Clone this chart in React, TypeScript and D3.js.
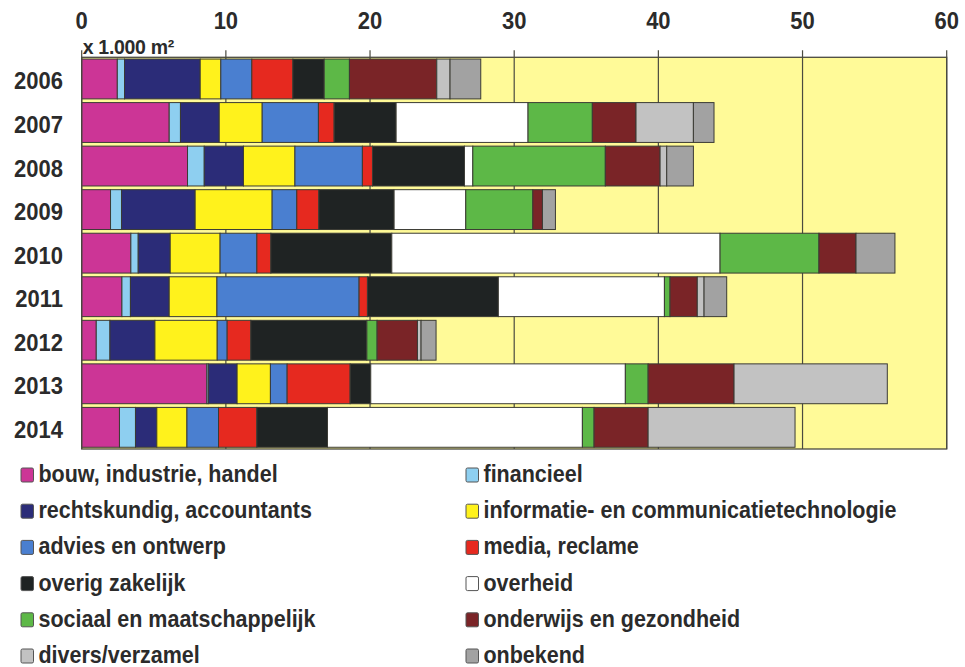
import * as d3 from 'd3';

// jaren (y-as)
const years = ['2006', '2007', '2008', '2009', '2010', '2011', '2012', '2013', '2014'];

// x-as ticks, in 1.000 m²
const xTicks = [0, 10, 20, 30, 40, 50, 60];

// sectoren, in stapelvolgorde
const sectors = [
  'bouw, industrie, handel',
  'financieel',
  'rechtskundig, accountants',
  'informatie- en communicatietechnologie',
  'advies en ontwerp',
  'media, reclame',
  'overig zakelijk',
  'overheid',
  'sociaal en maatschappelijk',
  'onderwijs en gezondheid',
  'divers/verzamel',
  'onbekend',
];

const sectorColors = [
  '#cc3596', '#8ecff0', '#2b2c78', '#fff21c', '#4a7fd0', '#e6291f',
  '#1f2323', '#ffffff', '#5db847', '#7a2427', '#c2c2c2', '#a2a2a2',
];

// waarden per sector, 2006..2014 (x 1.000 m²)
const bouw = [2.47, 6.07, 7.34, 2.0, 3.41, 2.79, 1.01, 8.68, 2.62];
const financieel = [0.5, 0.78, 1.16, 0.76, 0.51, 0.59, 0.95, 0.1, 1.11];
const rechtskundig = [5.25, 2.69, 2.72, 5.11, 2.22, 2.69, 3.12, 2.0, 1.48];
const informatie = [1.43, 2.98, 3.57, 5.34, 3.46, 3.31, 4.32, 2.31, 2.09];
const advies = [2.15, 3.9, 4.68, 1.71, 2.55, 9.86, 0.69, 1.16, 2.19];
const media = [2.85, 1.09, 0.7, 1.53, 0.97, 0.58, 1.64, 4.37, 2.66];
const overig = [2.17, 4.3, 6.38, 5.22, 8.39, 9.08, 8.05, 1.43, 4.9];
const overheid = [0, 9.15, 0.58, 4.97, 22.77, 11.52, 0, 17.66, 17.68];
const sociaal = [1.75, 4.46, 9.19, 4.65, 6.86, 0.39, 0.71, 1.58, 0.81];
const onderwijs = [6.06, 3.03, 3.8, 0.67, 2.57, 1.89, 2.8, 5.96, 3.75];
const divers = [0.92, 3.98, 0.46, 0, 0, 0.47, 0.25, 10.63, 10.19];
const onbekend = [2.13, 1.43, 1.85, 0.9, 2.7, 1.57, 1.04, 0, 0];

const series = [bouw, financieel, rechtskundig, informatie, advies, media,
  overig, overheid, sociaal, onderwijs, divers, onbekend];

const W = 965;
const H = 667;
const plot = { left: 81.7, right: 946.7, top: 57.3, bottom: 449 };
const FONT = '"Liberation Sans", Arial, sans-serif';
const TEXT = '#2b2b2b';

// tekst iets hoger getrokken, zoals in het origineel
function Label({ x, y, size, anchor = 'start', children, spacing = 0 }: {
  x: number; y: number; size: number; anchor?: string; children: any; spacing?: number;
}) {
  return (
    <g transform={`translate(${x},${y}) scale(1,1.08)`}>
      <text x={0} y={0} textAnchor={anchor} fontSize={size} fill={TEXT} letterSpacing={spacing}>{children}</text>
    </g>
  );
}

export default function App() {
  const x = d3.scaleLinear().domain([0, 60]).range([plot.left, plot.right]);
  const y = d3.scaleBand<string>().domain(years).range([plot.top, plot.bottom]).paddingInner(0.085).paddingOuter(0.04);

  const rows = years.map((yr, i) => {
    const r: Record<string, number | string> = { year: yr };
    sectors.forEach((s, k) => { r[s] = series[k][i]; });
    return r;
  });
  const stacked = d3.stack<Record<string, number | string>>().keys(sectors)(rows as any);

  return (
    <svg width={W} height={H} style={{ position: 'absolute', left: 0, top: 0, background: '#fff' }}
      fontFamily={FONT} fontWeight="bold">
      {/* plotvlak */}
      <rect x={plot.left} y={plot.top} width={plot.right - plot.left} height={plot.bottom - plot.top}
        fill="#fffa98" />

      {/* rasterlijnen en ticks */}
      {xTicks.map((t) => (
        <line key={'g' + t} x1={x(t)} x2={x(t)} y1={plot.top - 7} y2={plot.bottom}
          stroke="#4a4a40" strokeWidth={1.2} />
      ))}
      {xTicks.map((t) => (
        <Label key={'t' + t} x={x(t)} y={29} size={22} anchor="middle">{t}</Label>
      ))}
      <Label x={plot.left + 1} y={54} size={19.5} spacing={-0.3}>x 1.000 m²</Label>

      {/* gestapelde balken */}
      {stacked.map((layer, k) => (
        <g key={sectors[k]} fill={sectorColors[k]}>
          {layer.map((d, i) => (d[1] - d[0] > 0 ? (
            <rect key={years[i]} x={x(d[0])} y={y(years[i])} width={x(d[1]) - x(d[0])}
              height={y.bandwidth()} stroke="#3b3b35" strokeWidth={1} />
          ) : null))}
        </g>
      ))}

      <rect x={plot.left} y={plot.top} width={plot.right - plot.left} height={plot.bottom - plot.top}
        fill="none" stroke="#4a4a40" strokeWidth={1.3} />

      {/* jaarlabels */}
      {years.map((yr) => (
        <Label key={yr} x={63} y={(y(yr) ?? 0) + y.bandwidth() / 2 + 10.5} size={22} anchor="end">{yr}</Label>
      ))}

      {/* legenda */}
      {sectors.map((s, k) => {
        const col = k % 2;
        const row = Math.floor(k / 2);
        const base = 482 + row * 36.2;
        const sx = col === 0 ? 21 : 466;
        return (
          <g key={'l' + s}>
            <rect x={sx} y={base - 14} width={12.5} height={14} rx={1.5} fill={sectorColors[k]}
              stroke="#555" strokeWidth={1} />
            <Label x={sx + 17.5} y={base} size={21.5}>{s}</Label>
          </g>
        );
      })}
    </svg>
  );
}
